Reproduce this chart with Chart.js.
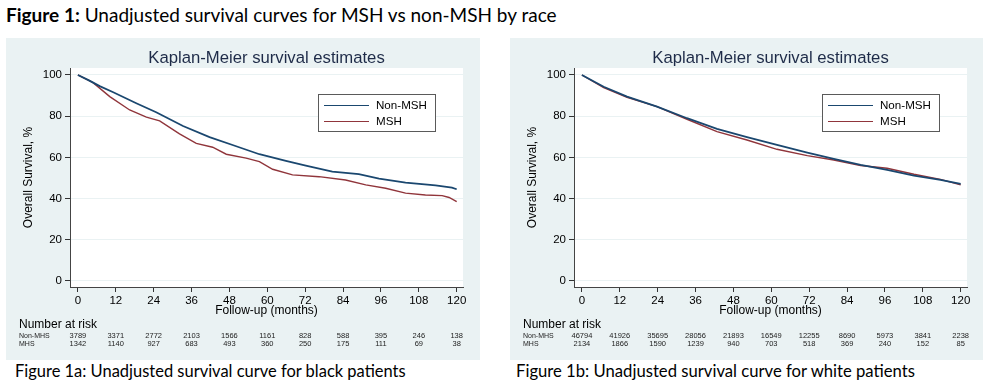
<!DOCTYPE html>
<html>
<head>
<meta charset="utf-8">
<script src="https://cdn.jsdelivr.net/npm/chart.js@4.4.0/dist/chart.umd.min.js"></script>
<style>
  html, body { margin: 0; padding: 0; background: #fff; }
  body { width: 990px; height: 384px; position: relative; overflow: hidden; }
  .panel { position: absolute; top: 38px; height: 322px; background: #eaf2f3; }
  .txt { position: absolute; white-space: nowrap; font-family: Lato, "Noto Sans", sans-serif; color: #000; line-height: 20px; }
  #mainTitle { left: 6px; top: 5px; font-size: 17px; }
  #capA { left: 15px; top: 361px; font-size: 17px; }
  #capB { left: 516px; top: 361px; font-size: 17px; }
</style>
</head>
<body>
<div id="mainTitle" class="txt"><b>Figure 1:</b> Unadjusted survival curves for MSH vs non-MSH by race</div>
<div class="panel" style="left:6px;width:474px;"><canvas id="cA" width="474" height="322"></canvas></div>
<div class="panel" style="left:510px;width:473px;"><canvas id="cB" width="473" height="322"></canvas></div>
<div id="capA" class="txt">Figure 1a: Unadjusted survival curve for black patients</div>
<div id="capB" class="txt">Figure 1b: Unadjusted survival curve for white patients</div>
<script>
// ---------- data ----------
const xTicks = [0, 12, 24, 36, 48, 60, 72, 84, 96, 108, 120];
const yTicks = [0, 20, 40, 60, 80, 100];
const seriesNames = ['Non-MSH', 'MSH'];
const riskRowNames = ['Non-MHS', 'MHS'];

// Figure 1a: black patients
const blackNonMshMonths = [0, 3.5, 6.9, 11.2, 18.5, 24.8, 33.3, 41.7, 49.0, 57.5, 65.9, 72.2, 80.6, 89.0, 95.4, 103.8, 113.3, 118.5, 120];
const blackNonMshSurv   = [100, 97.4, 94.6, 91.6, 86.3, 81.9, 75.2, 69.8, 66.0, 61.5, 58.3, 56.0, 53.1, 51.8, 49.7, 47.7, 46.4, 45.3, 44.5];
const blackMshMonths = [0, 4.8, 10.1, 16.4, 21.7, 25.9, 32.2, 37.5, 42.7, 47.0, 53.3, 57.5, 61.7, 68.0, 76.4, 84.8, 91.2, 97.5, 103.8, 110.1, 115.4, 117.6, 120];
const blackMshSurv   = [100, 96.3, 89.5, 83.0, 79.5, 77.7, 71.4, 66.8, 64.9, 61.5, 59.6, 57.9, 54.2, 51.5, 50.6, 49.0, 46.6, 45.0, 42.6, 41.7, 41.4, 40.5, 38.5];
const blackRiskNonMsh = [3789, 3371, 2772, 2103, 1566, 1161, 828, 588, 395, 246, 138];
const blackRiskMsh    = [1342, 1140, 927, 683, 493, 360, 250, 175, 111, 69, 38];

// Figure 1b: white patients
const whiteNonMshMonths = [0, 6.9, 14.3, 23.8, 33.3, 42.8, 52.3, 61.8, 71.4, 79.8, 88.3, 96.7, 105.2, 113.6, 120];
const whiteNonMshSurv   = [100, 94.3, 89.5, 84.6, 79.0, 73.8, 69.8, 66.0, 62.3, 59.2, 56.3, 53.9, 51.1, 49.0, 47.1];
const whiteMshMonths = [0, 6.9, 14.3, 23.8, 33.3, 42.8, 52.3, 61.8, 71.4, 79.8, 88.3, 96.7, 105.2, 113.6, 120];
const whiteMshSurv   = [100, 93.9, 89.2, 84.6, 78.5, 72.5, 68.4, 63.9, 60.8, 58.7, 56.0, 54.7, 51.8, 49.3, 46.6];
const whiteRiskNonMsh = [46794, 41926, 35695, 28056, 21893, 16549, 12255, 8690, 5973, 3841, 2238];
const whiteRiskMsh    = [2134, 1866, 1590, 1239, 940, 703, 518, 369, 240, 152, 85];

// ---------- styling ----------
const NAVY = '#1a476f';
const MAROON = '#90353b';
const FONT = '"Liberation Sans", Arial, Helvetica, sans-serif';
Chart.defaults.font.family = FONT;
Chart.defaults.color = '#000';

function toPoints(xs, ys) { return xs.map((x, i) => ({ x: x, y: ys[i] })); }

const kmPlugin = {
  id: 'km',
  beforeDraw(chart) {
    const { ctx, chartArea: a } = chart;
    ctx.save();
    ctx.fillStyle = '#ffffff';
    ctx.fillRect(a.left, a.top, a.right - a.left, a.bottom - a.top);
    ctx.restore();
  },
  afterDraw(chart) {
    const opt = chart.options.plugins.km;
    const { ctx, chartArea: a } = chart;
    const xs = chart.scales.x;
    ctx.save();
    // plot title
    ctx.font = '16.7px ' + FONT;
    ctx.fillStyle = '#1e2b48';
    ctx.textAlign = 'center';
    ctx.textBaseline = 'middle';
    ctx.fillText('Kaplan-Meier survival estimates', (a.left + a.right) / 2, 20);
    // x-axis title
    ctx.font = '12px ' + FONT;
    ctx.fillStyle = '#000';
    ctx.fillText('Follow-up (months)', (a.left + a.right) / 2, a.bottom + 24);
    // legend box
    const bx = 312, by = 56, bw = 117, bh = 37;
    ctx.fillStyle = '#fff';
    ctx.fillRect(bx, by, bw, bh);
    ctx.strokeStyle = '#5a5a5a';
    ctx.lineWidth = 1;
    ctx.strokeRect(bx + 0.5, by + 0.5, bw, bh);
    chart.data.datasets.forEach((ds, i) => {
      const y = by + 11 + i * 16;
      ctx.strokeStyle = ds.borderColor;
      ctx.lineWidth = 1.1;
      ctx.beginPath();
      ctx.moveTo(bx + 6, y + 0.5);
      ctx.lineTo(bx + 51, y + 0.5);
      ctx.stroke();
      ctx.fillStyle = '#000';
      ctx.font = '11.6px ' + FONT;
      ctx.textAlign = 'left';
      ctx.textBaseline = 'middle';
      ctx.fillText(ds.label, bx + 58, y + 1);
    });
    // number at risk table
    ctx.fillStyle = '#000';
    ctx.font = '12px ' + FONT;
    ctx.textAlign = 'left';
    ctx.textBaseline = 'middle';
    ctx.fillText('Number at risk', 13, 287);
    ctx.fillStyle = '#222';
    opt.rows.forEach((row, r) => {
      const y = 298 + r * 8;
      ctx.font = '7px ' + FONT;
      ctx.textAlign = 'left';
      ctx.fillText(riskRowNames[r], 13, y);
      ctx.font = '7.5px ' + FONT;
      ctx.textAlign = 'center';
      row.forEach((v, i) => {
        ctx.fillText(String(v), xs.getPixelForValue(xTicks[i]), y);
      });
    });
    ctx.restore();
  }
};

function makeChart(id, nonMonths, nonSurv, mshMonths, mshSurv, riskNon, riskMsh, padRight) {
  return new Chart(document.getElementById(id), {
    type: 'line',
    data: {
      datasets: [
        { label: seriesNames[0], data: toPoints(nonMonths, nonSurv), borderColor: NAVY, borderWidth: 1.8, pointRadius: 0, tension: 0, fill: false },
        { label: seriesNames[1], data: toPoints(mshMonths, mshSurv), borderColor: MAROON, borderWidth: 1.4, pointRadius: 0, tension: 0, fill: false }
      ]
    },
    options: {
      responsive: false,
      animation: false,
      devicePixelRatio: 1,
      layout: { padding: { top: 30, right: padRight, bottom: 42, left: 0 } },
      plugins: {
        legend: { display: false },
        tooltip: { enabled: false },
        title: { display: false },
        km: { rows: [riskNon, riskMsh] }
      },
      scales: {
        x: {
          type: 'linear',
          min: -2.5,
          max: 122,
          afterBuildTicks: s => { s.ticks = xTicks.map(v => ({ value: v })); },
          afterFit: s => { s.height = 31; },
          ticks: { font: { size: 11.5 }, padding: 2, maxRotation: 0, autoSkip: false, color: '#000' },
          grid: { drawOnChartArea: false, drawTicks: true, tickLength: 5, tickColor: '#333' },
          border: { display: true, color: '#444', width: 1 },
          title: { display: false }
        },
        y: {
          type: 'linear',
          min: -3,
          max: 103.4,
          afterBuildTicks: s => { s.ticks = yTicks.map(v => ({ value: v })); },
          afterFit: s => { s.width = 64; },
          ticks: { font: { size: 11.5 }, padding: 3, color: '#000' },
          grid: { color: '#eaf2f3', lineWidth: 1, drawTicks: true, tickLength: 5, tickColor: '#333' },
          border: { display: true, color: '#444', width: 1 },
          title: { display: true, text: 'Overall Survival, %', font: { size: 12 }, padding: { top: 15, bottom: 0 }, color: '#000' }
        }
      }
    },
    plugins: [kmPlugin]
  });
}

makeChart('cA', blackNonMshMonths, blackNonMshSurv, blackMshMonths, blackMshSurv, blackRiskNonMsh, blackRiskMsh, 17);
makeChart('cB', whiteNonMshMonths, whiteNonMshSurv, whiteMshMonths, whiteMshSurv, whiteRiskNonMsh, whiteRiskMsh, 16);

// fit the Calibri-like captions to the reference widths
function fitWidth(id, target) {
  const el = document.getElementById(id);
  const w = el.getBoundingClientRect().width;
  const fs = parseFloat(getComputedStyle(el).fontSize);
  if (w > 0) el.style.fontSize = (fs * target / w).toFixed(2) + 'px';
}
fitWidth('mainTitle', 551);
fitWidth('capA', 391);
fitWidth('capB', 399);
</script>
</body>
</html>
